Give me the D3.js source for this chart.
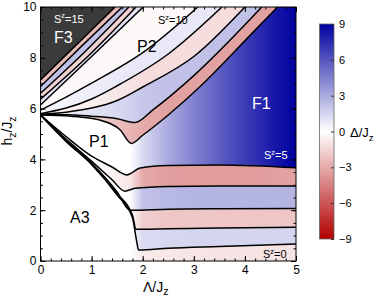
<!DOCTYPE html>
<html>
<head>
<meta charset="utf-8">
<script src="https://cdn.jsdelivr.net/npm/d3@7"></script>
<style>
  body { margin: 0; background: #fff; }
  text { font-family: "Liberation Sans", Arial, Helvetica, sans-serif; }
</style>
</head>
<body>
<script>
const W = 381, H = 297;

// boundaries between S^z sectors: boundary k separates S^z=k (below) from S^z=k+1 (above)
// points are [Lambda/Jz, hz/Jz]
const line0  = [[0,5.75],[0.5,4.71],[1.0,3.8],[1.5,2.6],[1.8,1.7],[1.88,0.8],[1.92,0.43],[2.5,0.5],[3.5,0.57],[5,0.67]];
const line1  = [[0,5.75],[0.5,4.73],[1.0,3.82],[1.5,2.65],[1.8,1.8],[1.87,1.25],[2.5,1.27],[3.5,1.3],[5,1.33]];
const line2  = [[0,5.75],[0.5,4.75],[1.0,3.85],[1.5,2.72],[1.75,2.0],[2.5,2.04],[3.5,2.06],[5,2.07]];
const line3  = [[0,5.75],[0.5,4.8],[0.97,3.98],[1.4,3.2],[1.65,2.75],[1.85,2.86],[2.5,2.93],[3.5,2.95],[5,2.95]];
const line4  = [[0,5.75],[0.5,4.9],[0.97,4.17],[1.4,3.7],[1.69,3.39],[1.95,3.66],[2.5,3.76],[3.5,3.78],[5,3.67]];
const line5  = [[0,5.75],[0.6,5.7],[1.16,5.55],[1.56,5.16],[1.78,4.63],[2.0,4.95],[2.5,5.75],[3.12,6.86],[4.2,9.09],[4.64,10]];
const line6  = [[0,5.76],[0.5,5.76],[1.0,5.7],[1.5,5.6],[1.85,5.45],[2.2,5.95],[3.0,7.3],[4.33,10]];
const line7  = [[0,5.78],[0.5,5.86],[1.0,6.02],[1.5,6.32],[2.0,6.85],[3.0,8.05],[4.0,10]];
const line8  = [[0,5.8],[0.5,6.02],[1.0,6.38],[1.5,6.9],[2.5,8.15],[3.55,10]];
const line9  = [[0,5.94],[0.5,6.45],[1.0,7.0],[2.0,8.2],[3.08,10]];
const line10 = [[0,6.14],[1.0,8.05],[2.01,10]];
const line11 = [[0,6.37],[1.0,8.2],[1.87,10]];
const line12 = [[0,6.6],[0.9,8.3],[1.73,10]];
const line13 = [[0,6.87],[0.8,8.45],[1.6,10]];
const line14 = [[0,7.13],[1.46,10]];
const boundaries = [line0, line1, line2, line3, line4, line5, line6, line7,
                    line8, line9, line10, line11, line12, line13, line14];

// gap Delta/Jz inside each S^z sector, sampled at these Lambda/Jz positions
const stopX = [0, 1.0, 1.75, 2.0, 2.5, 3.0, 3.5, 4.0, 4.5, 5.0];
const bandDelta = [
  [0, 0, 0, -0.7, -0.8, -0.9, -1, -1, -1, -1],          // S^z=0 (A3)
  [0, 0, 0, 1.3, 1.4, 1.5, 1.5, 1.5, 1.5, 1.5],
  [0, 0, 0, -1.7, -2, -2, -2, -2, -2, -2],
  [0, 0, 0, 2.2, 2.5, 2.6, 2.6, 2.6, 2.6, 2.6],
  [0, 0, -0.8, -3.0, -3.4, -3.5, -3.5, -3.5, -3.4, -3.3],
  [0, 0, 0, 1.3, 3.0, 4.4, 5.7, 6.9, 8.0, 9.0],         // S^z=5 (P1, F1)
  [-0.5, -1.5, -2.6, -3, -3.3, -3.3, -3.3, -3.3, -3.3, -3.3],
  [0.5, 1, 1.6, 2, 2.2, 2.2, 2.2, 2.2, 2.2, 2.2],
  [-0.3, -0.6, -1, -1.2, -1.2, -1.2, -1.2, -1.2, -1.2, -1.2],
  [0.3, 0.6, 0.8, 0.8, 0.8, 0.8, 0.8, 0.8, 0.8, 0.8],
  [-0.2, -0.2, -0.2, -0.2, -0.2, -0.2, -0.2, -0.2, -0.2, -0.2], // S^z=10 (P2)
  [1, 1, 1, 1, 1, 1, 1, 1, 1, 1],
  [-1.6, -1.6, -1.6, -1.6, -1.6, -1.6, -1.6, -1.6, -1.6, -1.6],
  [2.2, 2.2, 2.2, 2.2, 2.2, 2.2, 2.2, 2.2, 2.2, 2.2],
  [-2.4, -2.4, -2.4, -2.4, -2.4, -2.4, -2.4, -2.4, -2.4, -2.4]
];
const f3Color = "#3b3b3b";   // S^z=15 (F3)

const xTicks = [0, 1, 2, 3, 4, 5];
const yTicks = [0, 2, 4, 6, 8, 10];
const cbTicks = [-9, -6, -3, 0, 3, 6, 9];

const x = d3.scaleLinear().domain([0, 5]).range([40.5, 296]);
const y = d3.scaleLinear().domain([0, 10]).range([261, 7]);
const color = d3.scaleLinear().domain([-9, 0, 9]).range(["#b20000", "#ffffff", "#0000a0"]);

const svg = d3.select("body").append("svg").attr("width", W).attr("height", H);
const defs = svg.append("defs");

defs.append("clipPath").attr("id", "clip")
  .append("rect").attr("x", x(0)).attr("y", y(10))
  .attr("width", x(5) - x(0)).attr("height", y(0) - y(10));

bandDelta.forEach((vals, k) => {
  const g = defs.append("linearGradient").attr("id", "band" + k)
    .attr("gradientUnits", "userSpaceOnUse")
    .attr("x1", x(0)).attr("x2", x(5)).attr("y1", 0).attr("y2", 0);
  stopX.forEach((sx, i) => g.append("stop")
    .attr("offset", sx / 5).attr("stop-color", color(vals[i])));
});

const plot = svg.append("g").attr("clip-path", "url(#clip)");
plot.append("rect").attr("x", x(0)).attr("y", y(10))
  .attr("width", x(5) - x(0)).attr("height", y(0) - y(10)).attr("fill", f3Color);

const lineGen = d3.line().x(d => x(d[0])).y(d => y(d[1])).curve(d3.curveMonotoneX);

// paint from the top sector down: region under boundary k gets sector k's colour
for (let k = boundaries.length - 1; k >= 0; k--) {
  const pts = boundaries[k];
  let d = lineGen(pts);
  if (pts[pts.length - 1][1] >= 10) d += `L${x(5)},${y(10)}`;
  d += `L${x(5)},${y(0)}L${x(0)},${y(0)}Z`;
  plot.append("path").attr("d", d).attr("fill", `url(#band${k})`);
}

plot.selectAll("path.bnd").data(boundaries).join("path")
  .attr("class", "bnd")
  .attr("d", lineGen)
  .attr("fill", "none").attr("stroke", "#000").attr("stroke-width", 1.5);

// axes with inward ticks on all sides
function styleAxis(g) {
  g.select(".domain").remove();
  g.selectAll("text").attr("font-size", 12).attr("fill", "#000")
    .attr("font-family", '"Liberation Sans", Arial, sans-serif');
}
svg.append("g").attr("transform", `translate(0,${y(0)})`)
  .call(d3.axisBottom(x).tickValues(xTicks).tickSize(-5).tickPadding(4).tickFormat(d3.format("d")))
  .call(styleAxis);
svg.append("g").attr("transform", `translate(0,${y(0)})`)
  .call(d3.axisBottom(x).ticks(25).tickSize(-2.5).tickFormat(""))
  .call(styleAxis);
svg.append("g").attr("transform", `translate(0,${y(10)})`)
  .call(d3.axisTop(x).tickValues(xTicks).tickSize(-5).tickFormat(""))
  .call(styleAxis);
svg.append("g").attr("transform", `translate(0,${y(10)})`)
  .call(d3.axisTop(x).ticks(25).tickSize(-2.5).tickFormat(""))
  .call(styleAxis);
svg.append("g").attr("transform", `translate(${x(0)},0)`)
  .call(d3.axisLeft(y).tickValues(yTicks).tickSize(-5).tickPadding(4).tickFormat(d3.format("d")))
  .call(styleAxis);
svg.append("g").attr("transform", `translate(${x(0)},0)`)
  .call(d3.axisLeft(y).ticks(20).tickSize(-2.5).tickFormat(""))
  .call(styleAxis);
svg.append("g").attr("transform", `translate(${x(5)},0)`)
  .call(d3.axisRight(y).tickValues(yTicks).tickSize(-5).tickFormat(""))
  .call(styleAxis);
svg.append("g").attr("transform", `translate(${x(5)},0)`)
  .call(d3.axisRight(y).ticks(20).tickSize(-2.5).tickFormat(""))
  .call(styleAxis);

svg.append("rect").attr("x", x(0)).attr("y", y(10))
  .attr("width", x(5) - x(0)).attr("height", y(0) - y(10))
  .attr("fill", "none").attr("stroke", "#000").attr("stroke-width", 1);

// labels with super/subscripts
function label(px, py, parts, opts = {}) {
  const t = svg.append("text").attr("x", px).attr("y", py)
    .attr("font-size", opts.size || 11).attr("fill", opts.fill || "#000");
  if (opts.rotate) t.attr("transform", `rotate(-90,${px},${py})`).attr("text-anchor", "middle");
  if (opts.anchor) t.attr("text-anchor", opts.anchor);
  parts.forEach(p => {
    const s = t.append("tspan").text(p.t);
    if (p.sup) s.attr("font-size", (opts.size || 11) * 0.68).attr("dy", -(opts.size || 11) * 0.38);
    if (p.sub) s.attr("font-size", (opts.size || 11) * 0.75).attr("dy", (opts.size || 11) * 0.28);
    if (p.back) s.attr("dy", p.back);
  });
  return t;
}
const sz = (n, px, py, fill, size) => label(px, py,
  [{ t: "S" }, { t: "z", sup: true }, { t: "=" + n, back: (size || 11) * 0.38 }], { fill, size });

sz(15, 54, 22.5, "#fff");
label(54, 43, [{ t: "F3" }], { size: 16, fill: "#fff" });
sz(10, 158, 24, "#000");
label(137, 52, [{ t: "P2" }], { size: 16 });
label(89, 147, [{ t: "P1" }], { size: 16 });
label(252, 109, [{ t: "F1" }], { size: 16, fill: "#fff" });
sz(5, 264, 159, "#fff");
label(70, 223, [{ t: "A3" }], { size: 16 });
sz(0, 263, 258, "#000");

label(143, 291.5, [{ t: "Λ/J" }, { t: "z", sub: true }], { size: 14 });
label(12, 131, [{ t: "h" }, { t: "z", sub: true }, { t: "/J", back: -14 * 0.28 }, { t: "z", sub: true }],
  { size: 14, rotate: true });

// colour bar
const cb = d3.scaleLinear().domain([-9, 9]).range([239, 24]);
const cg = defs.append("linearGradient").attr("id", "cbar")
  .attr("x1", 0).attr("x2", 0).attr("y1", 1).attr("y2", 0);
color.domain().forEach(v => cg.append("stop")
  .attr("offset", (v + 9) / 18).attr("stop-color", color(v)));
svg.append("rect").attr("x", 319.5).attr("y", cb(9)).attr("width", 14.5)
  .attr("height", cb(-9) - cb(9)).attr("fill", "url(#cbar)")
  .attr("stroke", "#666").attr("stroke-width", 0.8);
svg.append("g").attr("transform", "translate(334,0)")
  .call(d3.axisRight(cb).tickValues(cbTicks).tickSize(-3).tickPadding(5).tickFormat(d3.format("d")))
  .call(g => {
    g.select(".domain").remove();
    g.selectAll("line").attr("stroke", "#333");
    g.selectAll("text").attr("font-size", 11).attr("fill", "#000")
      .attr("font-family", '"Liberation Sans", Arial, sans-serif');
  });
label(350, 137, [{ t: "Δ/J" }, { t: "z", sub: true }], { size: 13 });
</script>
</body>
</html>
